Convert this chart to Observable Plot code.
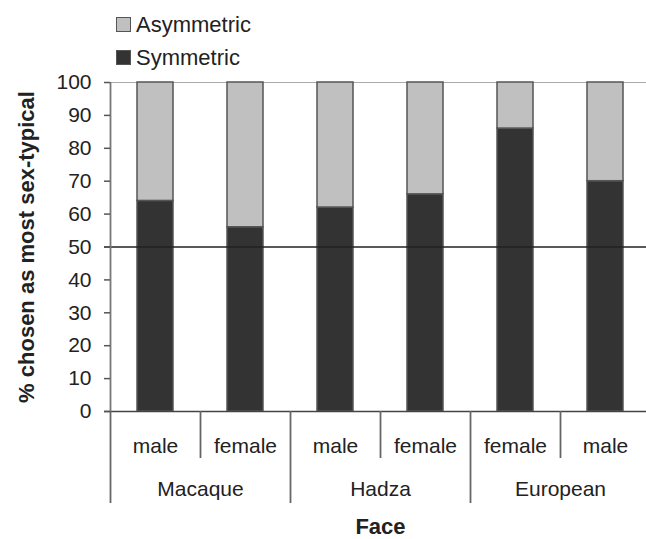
<!DOCTYPE html>
<html>
<head>
<meta charset="utf-8">
<script src="https://cdn.jsdelivr.net/npm/d3@7"></script>
<script src="https://cdn.jsdelivr.net/npm/@observablehq/plot@0.6"></script>
<style>
  html, body { margin: 0; padding: 0; background: #fff; }
  #wrap { position: relative; width: 646px; height: 539px; font-family: "Liberation Sans", Arial, sans-serif; color: #222; }
  #legend { position: absolute; left: 116px; top: 8px; font-size: 22px; line-height: 33px; }
  .item { display: flex; align-items: center; height: 33px; }
  .sw { width: 15px; height: 15px; border: 1px solid #555; margin-right: 5px; box-sizing: border-box; }
</style>
</head>
<body>
<div id="wrap"><div id="legend"></div></div>
<script>
const groups = ["Macaque", "Macaque", "Hadza", "Hadza", "European", "European"];
const sexes = ["male", "female", "male", "female", "female", "male"];
const symmetric = [64, 56, 62, 66, 86, 70];
const asymmetric = [36, 44, 38, 34, 14, 30];
const seriesNames = ["Asymmetric", "Symmetric"];
const seriesColors = ["#c0c0c0", "#333333"];
const yTicks = [0, 10, 20, 30, 40, 50, 60, 70, 80, 90, 100];

const keys = groups.map((g, i) => g + "|" + sexes[i]);
const rows = [];
keys.forEach((k, i) => {
  rows.push({key: k, series: "Symmetric", value: symmetric[i]});
  rows.push({key: k, series: "Asymmetric", value: asymmetric[i]});
});
const groupStarts = keys.filter((k, i) => i === 0 || groups[i] !== groups[i - 1]);
const innerStarts = keys.filter((k, i) => i > 0 && groups[i] === groups[i - 1]);
const groupLabels = keys
  .map((k, i) => ({key: k, group: groups[i], i}))
  .filter(d => d.i > 0 && groups[d.i] === groups[d.i - 1]);

const half = 45;
const chart = Plot.plot({
  width: 646,
  height: 539,
  marginLeft: 110,
  marginRight: -4,
  marginTop: 82,
  marginBottom: 128,
  style: {fontFamily: "'Liberation Sans', Arial, sans-serif", color: "#222", background: "#fff"},
  x: {type: "band", domain: keys, paddingInner: 0.6, paddingOuter: 0.3, axis: null},
  y: {domain: [0, 100], axis: null},
  color: {domain: seriesNames, range: seriesColors},
  marks: [
    Plot.ruleY([100], {stroke: "#aaa", strokeWidth: 1, insetLeft: -6, insetRight: -10}),
    Plot.barY(rows, {x: "key", y: "value", fill: "series", stroke: "#555", strokeWidth: 1.5}),
    Plot.ruleY([50], {stroke: "#222", strokeWidth: 1.6, insetLeft: -6, insetRight: -10}),
    Plot.ruleY([0], {stroke: "#444", strokeWidth: 1.6, insetLeft: -6, insetRight: -10}),
    Plot.ruleX([keys[0]], {dx: -half, y1: 0, y2: 100, stroke: "#777", strokeWidth: 1.8}),
    Plot.ruleX(groupStarts, {dx: -half, y1: 0, y2: 0, insetBottom: -92, stroke: "#666", strokeWidth: 1.8}),
    Plot.ruleX(innerStarts, {dx: -half, y1: 0, y2: 0, insetBottom: -47, stroke: "#666", strokeWidth: 1.8}),
    Plot.axisY({ticks: yTicks, tickSize: 6, tickPadding: 13, fontSize: 21, stroke: "#555", strokeWidth: 1.5, label: null, fill: "#222"}),
    Plot.axisX({tickSize: 0, tickPadding: 27, fontSize: 21, tickFormat: d => d.split("|")[1], label: null, fill: "#222"}),
    Plot.text(groupLabels, {x: "key", text: "group", dx: -half, frameAnchor: "bottom", lineAnchor: "bottom", dy: 84, fontSize: 21, fill: "#222"}),
    Plot.text(["Face"], {frameAnchor: "bottom", lineAnchor: "bottom", dy: 122, fontSize: 22, fontWeight: "bold", fill: "#222"}),
    Plot.text(["% chosen as most sex-typical"], {frameAnchor: "left", textAnchor: "middle", rotate: -90, dx: -84, fontSize: 22, fontWeight: "bold", fill: "#222"})
  ]
});
const wrap = document.getElementById("wrap");
wrap.insertBefore(chart, wrap.firstChild);
const legend = document.getElementById("legend");
seriesNames.forEach((s, i) => {
  const it = document.createElement("div");
  it.className = "item";
  const sw = document.createElement("span");
  sw.className = "sw";
  sw.style.background = seriesColors[i];
  const t = document.createElement("span");
  t.textContent = s;
  it.appendChild(sw); it.appendChild(t);
  legend.appendChild(it);
});
</script>
</body>
</html>
